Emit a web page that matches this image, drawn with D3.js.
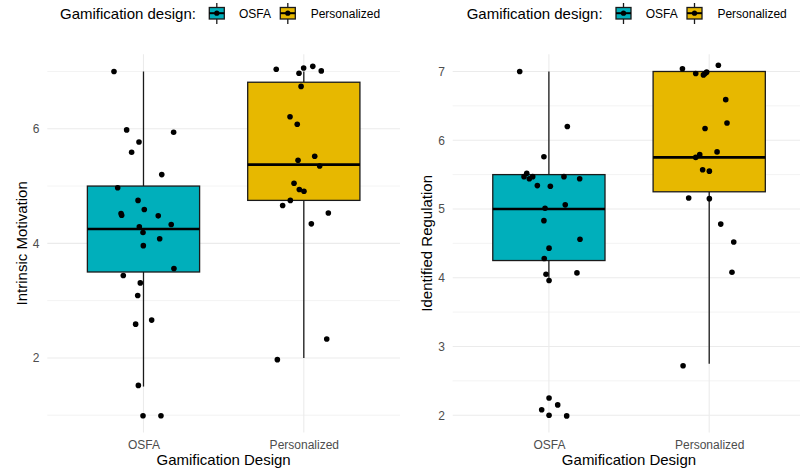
<!DOCTYPE html>
<html>
<head>
<meta charset="utf-8">
<script src="https://cdn.jsdelivr.net/npm/d3@7"></script>
<style>
  body { margin: 0; background: #fff; }
  svg { display: block; font-family: "Liberation Sans", Arial, sans-serif; }
</style>
</head>
<body>
<script>
// Groups
const groups = ["OSFA", "Personalized"];

// Box stats: [lower whisker, q1, median, q3, upper whisker]
const imBoxes = [[1.5, 3.5, 4.25, 5.0, 7.0], [2.0, 4.75, 5.375, 6.8125, 7.0]];
const irBoxes = [[4.0, 4.25, 5.0, 5.5, 7.0], [2.75, 5.25, 5.75, 7.0, 7.0]];

// Jittered points: [jitter (category units), value]
const imOsfa = [[-0.184,7.0],[-0.105,5.98],[0.188,5.94],[-0.028,5.77],[-0.074,5.59],[0.114,5.20],
  [-0.161,4.97],[-0.034,4.75],[-0.140,4.52],[-0.136,4.49],[0.005,4.59],[0.092,4.48],[-0.026,4.29],
  [0.173,4.33],[-0.003,4.19],[0.101,4.08],[-0.001,3.96],[0.190,3.56],[-0.126,3.44],[-0.020,3.31],
  [-0.036,3.09],[0.051,2.66],[-0.049,2.59],[-0.032,1.52],[-0.003,0.99],[0.109,0.99]];
const imPers = [[-0.172,7.04],[-0.001,7.06],[0.056,7.09],[-0.030,6.97],[0.109,7.01],[-0.017,6.74],
  [-0.086,6.21],[-0.041,6.08],[-0.036,5.45],[0.068,5.52],[0.099,5.35],[-0.061,5.05],[-0.028,4.94],
  [0.001,4.91],[-0.084,4.75],[-0.132,4.66],[0.153,4.53],[0.047,4.34],[0.143,2.33],[-0.165,1.97]];
const irOsfa = [[-0.182,7.0],[0.115,6.2],[-0.031,5.76],[-0.138,5.52],[-0.155,5.47],[-0.122,5.44],
  [-0.101,5.47],[0.094,5.47],[0.192,5.44],[-0.072,5.34],[0.009,5.33],[0.102,5.06],[-0.024,5.01],
  [-0.031,4.83],[0.194,4.56],[0.001,4.43],[-0.029,4.28],[-0.018,4.05],[0.001,3.96],[0.175,4.07],
  [0.001,2.25],[0.055,2.15],[-0.045,2.08],[0.001,2.0],[0.111,1.99]];
const irPers = [[-0.167,7.04],[-0.084,6.97],[-0.036,6.95],[-0.026,6.97],[-0.016,6.99],[0.057,7.09],
  [0.103,6.59],[0.111,6.25],[-0.026,6.17],[0.049,5.83],[-0.084,5.75],[-0.059,5.79],[-0.041,5.57],
  [0.001,5.55],[-0.128,5.16],[0.001,5.15],[0.072,4.78],[0.153,4.52],[0.142,4.08],[-0.163,2.72]];

// Axis ticks
const imMajor = [2, 4, 6];
const imMinor = [1, 3, 5, 7];
const irMajor = [2, 3, 4, 5, 6, 7];
const irMinor = [2.5, 3.5, 4.5, 5.5, 6.5];

const fills = {OSFA: "#00AFBB", Personalized: "#E7B800"};

const W = 800, H = 473;
const svg = d3.select("body").append("svg").attr("width", W).attr("height", H);

const panelTop = 54.3, panelBottom = 432.4;

function drawPanel(cfg) {
  const g = svg.append("g").attr("transform", `translate(${cfg.offset},0)`);

  const x = d3.scalePoint().domain(groups).range([cfg.left, cfg.left + 352.7]).padding(0.6);
  const step = x.step();
  const y = d3.scaleLinear().domain(cfg.domain).range([panelBottom, panelTop]);

  // grid
  const grid = g.append("g");
  grid.selectAll(".minor").data(cfg.minor).enter().append("line")
    .attr("x1", cfg.left).attr("x2", cfg.left + 352.7)
    .attr("y1", d => y(d)).attr("y2", d => y(d))
    .attr("stroke", "#EBEBEB").attr("stroke-width", 0.6);
  grid.selectAll(".major").data(cfg.major).enter().append("line")
    .attr("x1", cfg.left).attr("x2", cfg.left + 352.7)
    .attr("y1", d => y(d)).attr("y2", d => y(d))
    .attr("stroke", "#EBEBEB").attr("stroke-width", 1.1);
  grid.selectAll(".vmajor").data(groups).enter().append("line")
    .attr("x1", d => x(d)).attr("x2", d => x(d))
    .attr("y1", panelTop).attr("y2", panelBottom)
    .attr("stroke", "#EBEBEB").attr("stroke-width", 1.1);

  // y axis
  const yAxis = d3.axisLeft(y).tickValues(cfg.major).tickSize(0).tickPadding(7.8).tickFormat(d3.format("d"));
  const ya = g.append("g").attr("transform", `translate(${cfg.left},0)`).call(yAxis);
  ya.select(".domain").remove();
  ya.selectAll("text").attr("fill", "#4D4D4D").style("font-size", "12px")
    .style("font-family", "Liberation Sans, Arial, sans-serif");

  // x axis
  const xAxis = d3.axisBottom(x).tickSize(0).tickPadding(0);
  const xa = g.append("g").attr("transform", `translate(0,${panelBottom})`).call(xAxis);
  xa.select(".domain").remove();
  xa.selectAll("text").attr("fill", "#4D4D4D").style("font-size", "12px")
    .style("font-family", "Liberation Sans, Arial, sans-serif")
    .attr("dy", null).attr("y", 16.6);

  // boxes
  const bw = step * 0.7;
  cfg.boxes.forEach((b, i) => {
    const cx = x(groups[i]);
    const bg = g.append("g");
    bg.append("line").attr("x1", cx).attr("x2", cx).attr("y1", y(b[3])).attr("y2", y(b[4]))
      .attr("stroke", "#1a1a1a").attr("stroke-width", 1.3);
    bg.append("line").attr("x1", cx).attr("x2", cx).attr("y1", y(b[1])).attr("y2", y(b[0]))
      .attr("stroke", "#1a1a1a").attr("stroke-width", 1.3);
    bg.append("rect").attr("x", cx - bw / 2).attr("width", bw)
      .attr("y", y(b[3])).attr("height", y(b[1]) - y(b[3]))
      .attr("fill", fills[groups[i]]).attr("stroke", "#1a1a1a").attr("stroke-width", 1.3);
    bg.append("line").attr("x1", cx - bw / 2).attr("x2", cx + bw / 2)
      .attr("y1", y(b[2])).attr("y2", y(b[2]))
      .attr("stroke", "#000").attr("stroke-width", 2.6);
  });

  // points
  cfg.points.forEach((pts, i) => {
    g.append("g").selectAll("circle").data(pts).enter().append("circle")
      .attr("cx", d => x(groups[i]) + d[0] * step)
      .attr("cy", d => y(d[1]))
      .attr("r", 2.8).attr("fill", "#000");
  });

  // axis titles
  g.append("text").attr("x", x.range()[0] + 176.3).attr("y", 465.3)
    .attr("text-anchor", "middle").style("font-size", "15px").attr("fill", "#000")
    .text("Gamification Design");
  g.append("text").attr("transform", `translate(${cfg.yTitleX},${(panelTop + panelBottom) / 2}) rotate(-90)`)
    .attr("text-anchor", "middle").style("font-size", "15px").attr("fill", "#000")
    .text(cfg.yTitle);

  // legend
  const lg = g.append("g").attr("transform", `translate(${cfg.legendX},0)`);
  lg.append("text").attr("x", 0).attr("y", 19.3).style("font-size", "15px").attr("fill", "#000")
    .text("Gamification design:");
  const keyX = [156.8, 227.8];
  const labX = [179, 250.7];
  groups.forEach((grp, i) => {
    const kx = keyX[i];
    lg.append("line").attr("x1", kx).attr("x2", kx).attr("y1", 3).attr("y2", 24)
      .attr("stroke", "#1a1a1a").attr("stroke-width", 1.3);
    lg.append("rect").attr("x", kx - 7.5).attr("y", 7.5).attr("width", 15).attr("height", 11.5)
      .attr("fill", fills[grp]).attr("stroke", "#1a1a1a").attr("stroke-width", 1.3);
    lg.append("line").attr("x1", kx - 7.5).attr("x2", kx + 7.5).attr("y1", 13.2).attr("y2", 13.2)
      .attr("stroke", "#000").attr("stroke-width", 2);
    lg.append("circle").attr("cx", kx).attr("cy", 13.2).attr("r", 2.6).attr("fill", "#000");
    lg.append("text").attr("x", labX[i]).attr("y", 18.3).style("font-size", "12px").attr("fill", "#000")
      .text(grp);
  });
}

drawPanel({offset: 0, left: 47.3, domain: [0.7, 7.3], major: imMajor, minor: imMinor,
  boxes: imBoxes, points: [imOsfa, imPers], yTitle: "Intrinsic Motivation", yTitleX: 26.7, legendX: 60});
drawPanel({offset: 405.4, left: 47.3, domain: [1.75, 7.25], major: irMajor, minor: irMinor,
  boxes: irBoxes, points: [irOsfa, irPers], yTitle: "Identified Regulation", yTitleX: 27, legendX: 61.3});
</script>
</body>
</html>
